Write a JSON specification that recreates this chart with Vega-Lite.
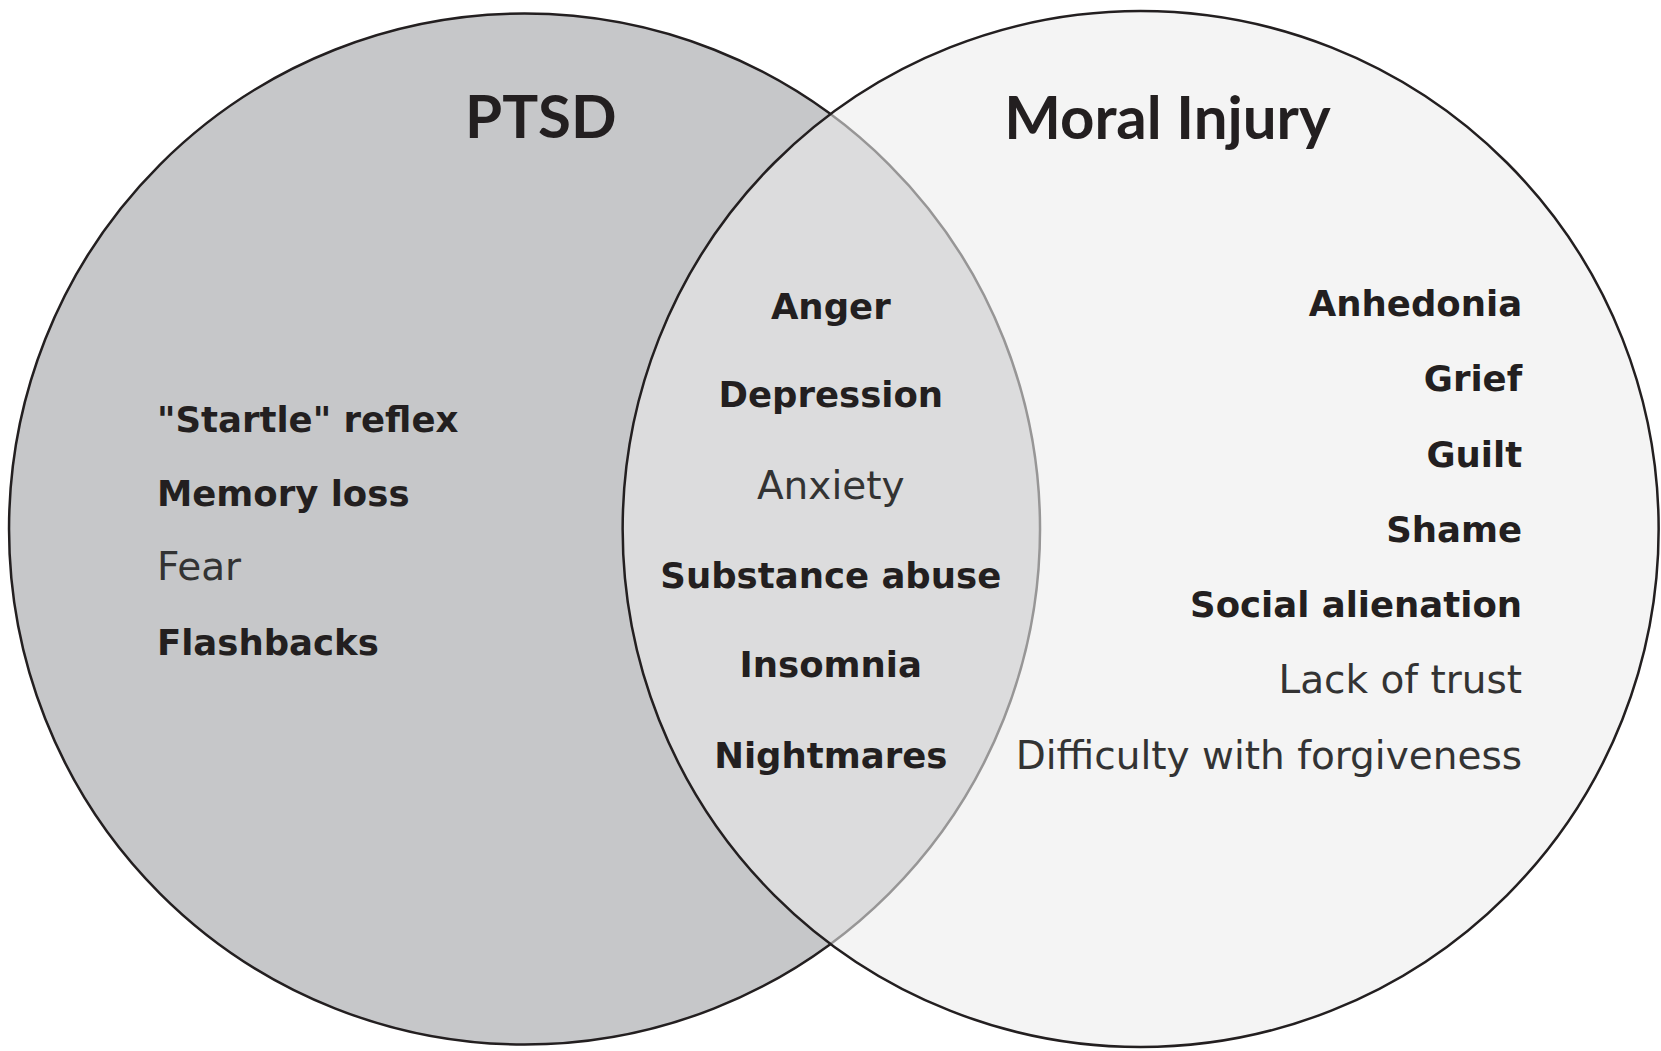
{
  "$schema": "https://vega.github.io/schema/vega-lite/v6.json",
  "width": 1661,
  "height": 1051,
  "autosize": {"type": "fit", "contains": "padding"},
  "padding": 0,
  "background": "white",
  "config": {"view": {"stroke": null}},
  "datasets": {
    "sets": [
      {"set": "PTSD", "x": 31.79, "y": 50.48},
      {"set": "Moral Injury", "x": 69.13, "y": 50.48}
    ],
    "labels": [
      {"label": "PTSD", "region": "title", "emphasis": "strong", "x": 32.78, "y": 13.13},
      {"label": "Moral Injury", "region": "title", "emphasis": "strong", "x": 70.75, "y": 13.23},
      {"label": "\"Startle\" reflex", "region": "PTSD", "emphasis": "strong", "x": 9.51, "y": 41.2},
      {"label": "Memory loss", "region": "PTSD", "emphasis": "strong", "x": 9.51, "y": 48.33},
      {"label": "Fear", "region": "PTSD", "emphasis": "plain", "x": 9.51, "y": 55.38},
      {"label": "Flashbacks", "region": "PTSD", "emphasis": "strong", "x": 9.51, "y": 62.51},
      {"label": "Anger", "region": "both", "emphasis": "strong", "x": 50.35, "y": 30.45},
      {"label": "Depression", "region": "both", "emphasis": "strong", "x": 50.35, "y": 38.82},
      {"label": "Anxiety", "region": "both", "emphasis": "plain", "x": 50.35, "y": 47.57},
      {"label": "Substance abuse", "region": "both", "emphasis": "strong", "x": 50.35, "y": 56.14},
      {"label": "Insomnia", "region": "both", "emphasis": "strong", "x": 50.35, "y": 64.61},
      {"label": "Nightmares", "region": "both", "emphasis": "strong", "x": 50.35, "y": 73.26},
      {"label": "Anhedonia", "region": "Moral Injury", "emphasis": "strong", "x": 92.25, "y": 30.16},
      {"label": "Grief", "region": "Moral Injury", "emphasis": "strong", "x": 92.25, "y": 37.3},
      {"label": "Guilt", "region": "Moral Injury", "emphasis": "strong", "x": 92.25, "y": 44.53},
      {"label": "Shame", "region": "Moral Injury", "emphasis": "strong", "x": 92.25, "y": 51.67},
      {"label": "Social alienation", "region": "Moral Injury", "emphasis": "strong", "x": 92.25, "y": 58.9},
      {"label": "Lack of trust", "region": "Moral Injury", "emphasis": "plain", "x": 92.25, "y": 66.13},
      {"label": "Difficulty with forgiveness", "region": "Moral Injury", "emphasis": "plain", "x": 92.25, "y": 73.36}
    ]
  },
  "encoding": {
    "x": {"field": "x", "type": "quantitative", "scale": {"domain": [0, 100], "nice": false, "zero": false}, "axis": null},
    "y": {"field": "y", "type": "quantitative", "scale": {"domain": [0, 100], "nice": false, "zero": false, "reverse": true}, "axis": null}
  },
  "layer": [
    {
      "data": {"name": "sets"},
      "transform": [{"filter": "datum.set == 'PTSD'"}],
      "mark": {"type": "point", "shape": "circle", "filled": true, "size": 1062961, "fill": "#c6c7c9", "fillOpacity": 1, "opacity": 1, "stroke": "#231f20", "strokeWidth": 2.5, "strokeOpacity": 1}
    },
    {
      "data": {"name": "sets"},
      "transform": [{"filter": "datum.set == 'Moral Injury'"}],
      "mark": {"type": "point", "shape": "circle", "filled": true, "size": 1073296, "fill": "#ececec", "fillOpacity": 0.58, "opacity": 1, "stroke": "#231f20", "strokeWidth": 2.5, "strokeOpacity": 1}
    },
    {
      "data": {"name": "labels"},
      "transform": [{"filter": "datum.region == 'title'"}],
      "mark": {"type": "text", "font": "Lato", "fontSize": 60, "fontWeight": "bold", "align": "center", "baseline": "alphabetic", "color": "#231f20"},
      "encoding": {"text": {"field": "label"}}
    },
    {
      "data": {"name": "labels"},
      "transform": [{"filter": "datum.region == 'PTSD' && datum.emphasis == 'strong'"}],
      "mark": {"type": "text", "font": "DejaVu Sans", "fontSize": 35.5, "fontWeight": "bold", "align": "left", "baseline": "alphabetic", "color": "#231f20"},
      "encoding": {"text": {"field": "label"}}
    },
    {
      "data": {"name": "labels"},
      "transform": [{"filter": "datum.region == 'PTSD' && datum.emphasis == 'plain'"}],
      "mark": {"type": "text", "font": "DejaVu Sans", "fontSize": 39, "fontWeight": "normal", "align": "left", "baseline": "alphabetic", "color": "#333333"},
      "encoding": {"text": {"field": "label"}}
    },
    {
      "data": {"name": "labels"},
      "transform": [{"filter": "datum.region == 'both' && datum.emphasis == 'strong'"}],
      "mark": {"type": "text", "font": "DejaVu Sans", "fontSize": 35.5, "fontWeight": "bold", "align": "center", "baseline": "alphabetic", "color": "#231f20"},
      "encoding": {"text": {"field": "label"}}
    },
    {
      "data": {"name": "labels"},
      "transform": [{"filter": "datum.region == 'both' && datum.emphasis == 'plain'"}],
      "mark": {"type": "text", "font": "DejaVu Sans", "fontSize": 39, "fontWeight": "normal", "align": "center", "baseline": "alphabetic", "color": "#333333"},
      "encoding": {"text": {"field": "label"}}
    },
    {
      "data": {"name": "labels"},
      "transform": [{"filter": "datum.region == 'Moral Injury' && datum.emphasis == 'strong'"}],
      "mark": {"type": "text", "font": "DejaVu Sans", "fontSize": 35.5, "fontWeight": "bold", "align": "right", "baseline": "alphabetic", "color": "#231f20"},
      "encoding": {"text": {"field": "label"}}
    },
    {
      "data": {"name": "labels"},
      "transform": [{"filter": "datum.region == 'Moral Injury' && datum.emphasis == 'plain'"}],
      "mark": {"type": "text", "font": "DejaVu Sans", "fontSize": 39, "fontWeight": "normal", "align": "right", "baseline": "alphabetic", "color": "#333333"},
      "encoding": {"text": {"field": "label"}}
    }
  ]
}
